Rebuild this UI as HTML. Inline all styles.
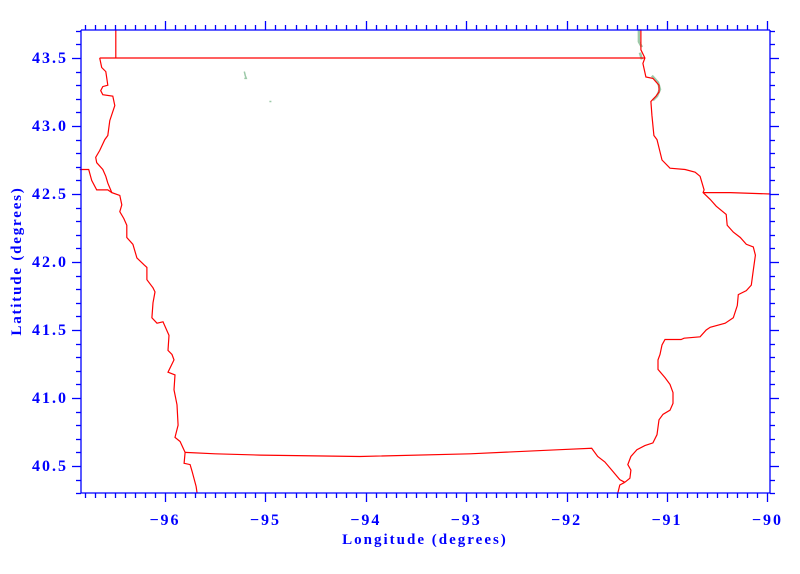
<!DOCTYPE html>
<html><head><meta charset="utf-8"><style>
html,body{margin:0;padding:0;background:#fff;}
svg{display:block;}
text{font-family:"Liberation Serif",serif;font-weight:bold;fill:#0000ff;}
</style></head><body>
<svg id="chart" width="800" height="574" viewBox="0 0 800 574" xmlns="http://www.w3.org/2000/svg">
<g id="marks"></g>
<g id="axes"></g>
<text x="425" y="544" text-anchor="middle" font-size="15" letter-spacing="2">Longitude (degrees)</text>
<text x="0" y="0" text-anchor="middle" font-size="15" letter-spacing="1.8" transform="translate(21,261) rotate(-90)">Latitude (degrees)</text>
</svg>
<script>
const xTicks = [-96, -95, -94, -93, -92, -91, -90];
const yTicks = [40.5, 41.0, 41.5, 42.0, 42.5, 43.0, 43.5];
const northBorder = [[-96.65,43.50],[-91.22,43.50]];
const mnSdLine = [[-96.49,43.71],[-96.49,43.50]];
const westBorder = [[-96.65,43.50],[-96.63,43.43],[-96.59,43.40],[-96.57,43.30],[-96.62,43.29],[-96.64,43.26],[-96.62,43.23],[-96.52,43.22],[-96.50,43.15],[-96.55,43.04],[-96.57,42.93],[-96.60,42.90],[-96.65,42.82],[-96.69,42.77],[-96.68,42.73],[-96.62,42.68],[-96.59,42.63],[-96.57,42.58],[-96.53,42.51],[-96.45,42.49],[-96.43,42.42],[-96.45,42.37],[-96.41,42.32],[-96.38,42.27],[-96.38,42.18],[-96.32,42.13],[-96.28,42.03],[-96.21,41.98],[-96.18,41.96],[-96.18,41.87],[-96.12,41.81],[-96.10,41.78],[-96.12,41.70],[-96.13,41.59],[-96.08,41.55],[-96.02,41.56],[-95.96,41.46],[-95.97,41.35],[-95.93,41.32],[-95.91,41.28],[-95.97,41.19],[-95.90,41.17],[-95.91,41.06],[-95.88,40.95],[-95.87,40.80],[-95.90,40.71],[-95.85,40.68],[-95.80,40.60]];
const southBorder = [[-95.80,40.60],[-95.50,40.59],[-95.05,40.58],[-94.06,40.57],[-92.96,40.59],[-92.07,40.62],[-91.75,40.63],[-91.69,40.57],[-91.62,40.53],[-91.55,40.47],[-91.47,40.40],[-91.42,40.38]];
const eastBorder = [[-91.42,40.38],[-91.37,40.41],[-91.36,40.47],[-91.39,40.51],[-91.36,40.57],[-91.30,40.62],[-91.22,40.65],[-91.14,40.67],[-91.10,40.73],[-91.08,40.84],[-91.04,40.88],[-90.97,40.91],[-90.94,40.96],[-90.94,41.04],[-90.97,41.10],[-91.02,41.15],[-91.09,41.21],[-91.09,41.28],[-91.07,41.32],[-91.05,41.39],[-91.02,41.43],[-90.86,41.43],[-90.83,41.44],[-90.67,41.45],[-90.61,41.50],[-90.57,41.52],[-90.42,41.55],[-90.34,41.59],[-90.30,41.68],[-90.29,41.76],[-90.21,41.79],[-90.16,41.83],[-90.14,41.94],[-90.12,42.05],[-90.14,42.11],[-90.21,42.13],[-90.27,42.18],[-90.34,42.22],[-90.40,42.27],[-90.41,42.35],[-90.51,42.41],[-90.57,42.46],[-90.64,42.51],[-90.63,42.53],[-90.67,42.63],[-90.72,42.66],[-90.82,42.68],[-90.97,42.69],[-91.05,42.75],[-91.10,42.90],[-91.13,42.93],[-91.15,43.08],[-91.16,43.18],[-91.11,43.22],[-91.08,43.25],[-91.08,43.30],[-91.14,43.35],[-91.21,43.36],[-91.24,43.46],[-91.22,43.50],[-91.26,43.56],[-91.26,43.71]];
const sdNeLine = [[-96.85,42.68],[-96.76,42.68],[-96.73,42.60],[-96.68,42.53],[-96.57,42.53],[-96.53,42.51]];
const wiIlLine = [[-90.64,42.51],[-90.37,42.51],[-89.97,42.50]];
const neMoLine = [[-95.80,40.60],[-95.81,40.52],[-95.75,40.51],[-95.73,40.46],[-95.69,40.35],[-95.68,40.30]];
const moIlLine = [[-91.42,40.38],[-91.47,40.36],[-91.49,40.30]];
const lakeA = [[-95.21,43.40],[-95.20,43.37],[-95.19,43.35],[-95.21,43.35]];
const lakeB = [[-94.96,43.18],[-94.94,43.18]];
const riverGreenA = [[-91.28,43.71],[-91.28,43.62],[-91.25,43.58]];
const riverGreenB = [[-91.27,43.54],[-91.25,43.49]];
const riverGreenC = [[-91.15,43.37],[-91.09,43.32],[-91.07,43.27],[-91.10,43.22],[-91.14,43.19]];

const X0 = 81, X1 = 770, Y0 = 30, Y1 = 493;
function sx(lon){ return 165 + (lon + 96) * 100.4; }
function sy(lat){ return 58 + (43.5 - lat) * 136; }
const NS = 'http://www.w3.org/2000/svg';
const marks = document.getElementById('marks');
const axes = document.getElementById('axes');

function line(arr, color, name, w){
  const p = document.createElementNS(NS, 'polyline');
  p.setAttribute('points', arr.map(d => sx(d[0]).toFixed(1) + ',' + sy(d[1]).toFixed(1)).join(' '));
  p.setAttribute('fill', 'none');
  p.setAttribute('stroke', color);
  p.setAttribute('stroke-width', w || 1.2);
  
  
  marks.appendChild(p);
}
const green = '#9cc9a8';
line(riverGreenA, green, 'river-water-north', 2.5);
line(riverGreenB, green, 'river-water-mid', 2.5);
line(riverGreenC, green, 'river-water-bend', 2.5);
line(lakeA, green, 'lake-west', 1.5);
line(lakeB, green, 'lake-east', 1.5);
const red = '#ff0000';
line(northBorder, red, 'north-border');
line(mnSdLine, red, 'mn-sd-border');
line(westBorder, red, 'west-border');
line(southBorder, red, 'south-border');
line(eastBorder, red, 'east-border');
line(sdNeLine, red, 'sd-ne-border');
line(wiIlLine, red, 'wi-il-border');
line(neMoLine, red, 'ne-mo-border');
line(moIlLine, red, 'mo-il-border');

function seg(x1,y1,x2,y2,name){
  const l = document.createElementNS(NS, 'line');
  l.setAttribute('x1', x1); l.setAttribute('y1', y1);
  l.setAttribute('x2', x2); l.setAttribute('y2', y2);
  l.setAttribute('stroke', '#0000ff');
  l.setAttribute('stroke-width', 1.3);
  
  
  axes.appendChild(l);
}
seg(X0, Y0, X1, Y0, 'top-axis');
seg(X0, Y1, X1, Y1, 'bottom-axis');
seg(X0, Y0, X0, Y1, 'left-axis');
seg(X1, Y0, X1, Y1, 'right-axis');

for (let i = -968; i <= -900; i++) {
  const lon = i / 10;
  const x = Math.round(sx(lon)) + 0.5;
  if (x < X0 - 0.5 || x > X1 + 1) continue;
  const major = (i % 10 === 0);
  const len = major ? 9 : 5;
  seg(x, Y1, x, Y1 + len, 'x-tick-bottom');
  seg(x, Y0, x, Y0 - len, 'x-tick-top');
}
for (let i = 403; i <= 437; i++) {
  const lat = i / 10;
  const y = Math.round(sy(lat)) + 0.5;
  if (y < Y0 - 0.5 || y > Y1 + 0.5) continue;
  const major = (i % 5 === 0);
  const len = major ? 9 : 5;
  seg(X0, y, X0 - len, y, 'y-tick-left');
  seg(X1, y, X1 + len, y, 'y-tick-right');
}
xTicks.forEach(v => {
  const t = document.createElementNS(NS, 'text');
  t.setAttribute('x', sx(v));
  t.setAttribute('y', 525);
  t.setAttribute('text-anchor', 'middle');
  t.setAttribute('font-size', '16');
  t.setAttribute('letter-spacing', '2');
  t.textContent = '\u2212' + Math.abs(v);
  
  
  axes.appendChild(t);
});
yTicks.forEach(v => {
  const t = document.createElementNS(NS, 'text');
  t.setAttribute('x', 68);
  t.setAttribute('y', sy(v) + 5);
  t.setAttribute('text-anchor', 'end');
  t.setAttribute('font-size', '16');
  t.setAttribute('letter-spacing', '2');
  t.textContent = v.toFixed(1);
  
  
  axes.appendChild(t);
});
</script>
</body></html>
